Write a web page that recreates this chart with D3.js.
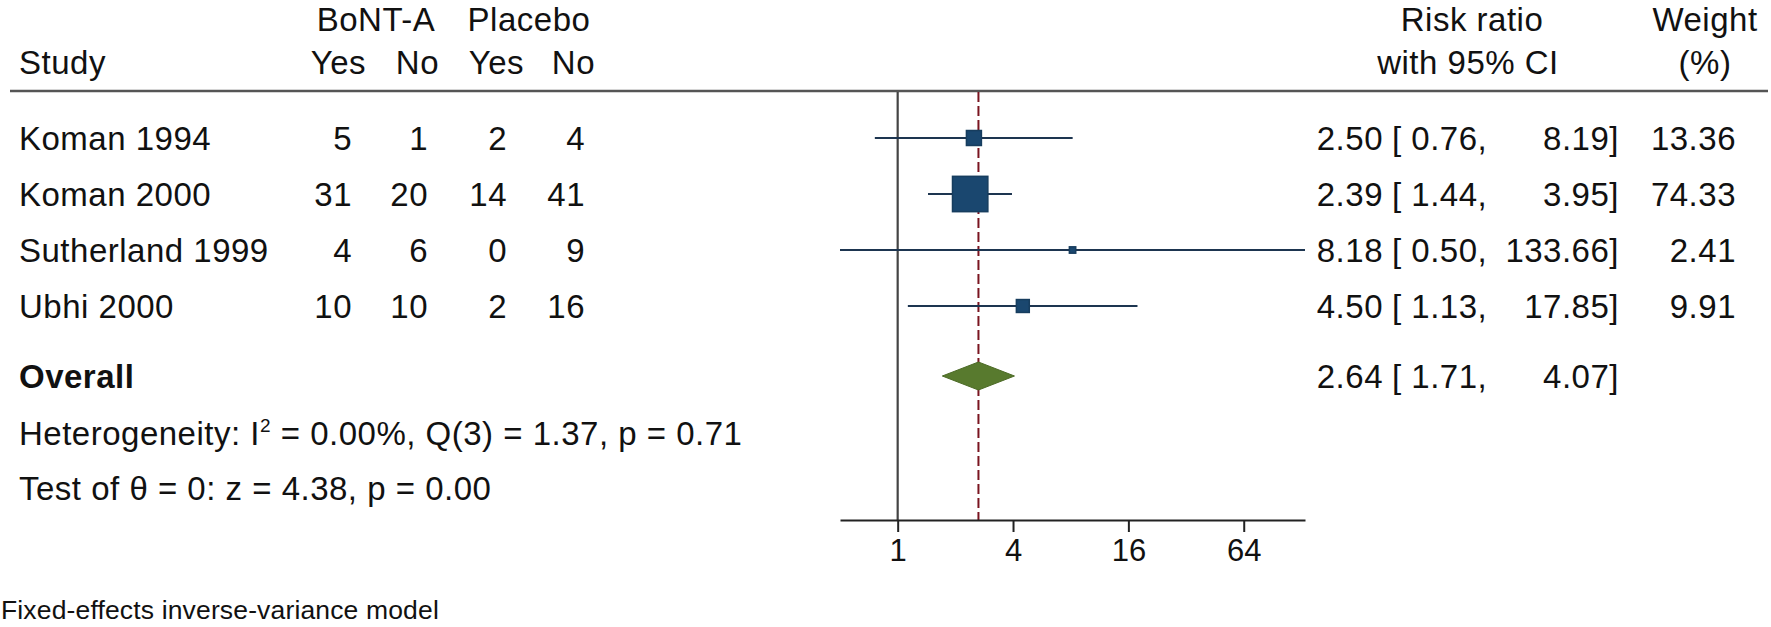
<!DOCTYPE html>
<html>

<head>
    <meta charset="utf-8" />
    <style>
        body {
            margin: 0;
            background-color: white;
        }
        text {
            font-family: "Liberation Sans", Arial, sans-serif;
            fill: #111;
        }
    </style>

    <script src="https://d3js.org/d3.v7.min.js"></script>
</head>

<body>
    <script>
        // data
        var studies = ["Koman 1994", "Koman 2000", "Sutherland 1999", "Ubhi 2000"];
        var bontYes = [5, 31, 4, 10],
            bontNo = [1, 20, 6, 10],
            placeboYes = [2, 14, 0, 2],
            placeboNo = [4, 41, 9, 16];
        var riskRatio = [2.50, 2.39, 8.18, 4.50],
            ciLow = [0.76, 1.44, 0.50, 1.13],
            ciHigh = [8.19, 3.95, 133.66, 17.85],
            weights = [13.36, 74.33, 2.41, 9.91];
        var overall = [2.64, 1.71, 4.07]; // estimate, low, high
        var xTicks = [1, 4, 16, 64];

        var width = 1771,
            height = 627;

        var fs = 33;

        var svg = d3.select("body").append("svg")
            .attr("width", width)
            .attr("height", height);

        var x = d3.scaleLog().base(2)
            .domain([d3.min(ciLow), d3.max(ciHigh)])
            .range([840, 1305]);

        // row centres, overall row after a small gap
        var rowY = d3.scaleLinear().domain([0, 1]).range([138, 194]);
        var overallRow = 4.25;

        var axisY = 520,
            topY = 91;

        // header
        svg.append("line")
            .attr("x1", 10).attr("x2", 1768)
            .attr("y1", topY).attr("y2", topY)
            .attr("stroke", "#555").attr("stroke-width", 2.5);

        function txt(s, xp, yp, anchor, size, weight) {
            return svg.append("text")
                .attr("x", xp).attr("y", yp)
                .attr("text-anchor", anchor || "start")
                .attr("font-size", size || fs)
                .attr("font-weight", weight || "normal")
                .attr("letter-spacing", (size && size < fs) ? 0.15 : 0.5)
                .text(s);
        }

        txt("BoNT-A", 376, 31, "middle");
        txt("Placebo", 529, 31, "middle");
        txt("Study", 19, 74);
        var colRight = [352, 428, 507, 585];
        var headRight = [366, 439, 524, 595];
        ["Yes", "No", "Yes", "No"].forEach(function (h, i) {
            txt(h, headRight[i], 74, "end");
        });
        txt("Risk ratio", 1472, 31, "middle");
        txt("with 95% CI", 1468, 74, "middle");
        txt("Weight", 1705, 31, "middle");
        txt("(%)", 1705, 74, "middle");

        // study rows
        var cols = [bontYes, bontNo, placeboYes, placeboNo];
        studies.forEach(function (s, i) {
            var by = rowY(i) + 12;
            txt(s, 19, by);
            cols.forEach(function (c, j) {
                txt(c[i], colRight[j], by, "end");
            });
            txt(riskRatio[i].toFixed(2), 1383, by, "end");
            txt("[ " + ciLow[i].toFixed(2) + ",", 1392, by);
            txt(ciHigh[i].toFixed(2) + "]", 1619, by, "end");
            txt(weights[i].toFixed(2), 1736, by, "end");
        });

        // overall row
        var oy = rowY(overallRow) + 12;
        txt("Overall", 19, oy, "start", fs, "bold");
        txt(overall[0].toFixed(2), 1383, oy, "end");
        txt("[ " + overall[1].toFixed(2) + ",", 1392, oy);
        txt(overall[2].toFixed(2) + "]", 1619, oy, "end");

        var het = txt("Heterogeneity: I", 19, 445);
        het.append("tspan").attr("dy", -13).attr("font-size", 19).text("2");
        het.append("tspan").attr("dy", 13).text(" = 0.00%, Q(3) = 1.37, p = 0.71");
        txt("Test of \u03b8 = 0: z = 4.38, p = 0.00", 19, 500);
        txt("Fixed-effects inverse-variance model", 1, 619, "start", 26.5);

        // null line
        svg.append("line")
            .attr("x1", x(1)).attr("x2", x(1))
            .attr("y1", topY + 1).attr("y2", axisY)
            .attr("stroke", "#444").attr("stroke-width", 2.2);

        // overall effect line
        svg.append("line")
            .attr("x1", x(overall[0])).attr("x2", x(overall[0]))
            .attr("y1", topY + 1).attr("y2", axisY)
            .attr("stroke", "#7a1420").attr("stroke-width", 2)
            .attr("stroke-dasharray", "10,4");

        // CIs
        svg.selectAll(".ci").data(studies).enter().append("line")
            .attr("class", "ci")
            .attr("x1", function (d, i) { return x(ciLow[i]); })
            .attr("x2", function (d, i) { return x(ciHigh[i]); })
            .attr("y1", function (d, i) { return rowY(i); })
            .attr("y2", function (d, i) { return rowY(i); })
            .attr("stroke", "#1d3550").attr("stroke-width", 2.2);

        // weight squares
        var side = function (w) { return 4.1 * Math.sqrt(w); };
        svg.selectAll(".box").data(studies).enter().append("rect")
            .attr("class", "box")
            .attr("x", function (d, i) { return x(riskRatio[i]) - side(weights[i]) / 2; })
            .attr("y", function (d, i) { return rowY(i) - side(weights[i]) / 2; })
            .attr("width", function (d, i) { return side(weights[i]); })
            .attr("height", function (d, i) { return side(weights[i]); })
            .attr("fill", "#1a476f")
            .attr("stroke", "#173d5e").attr("stroke-width", 1.5);

        // diamond
        var dc = rowY(overallRow), dh = 14;
        svg.append("path")
            .attr("d", "M" + x(overall[1]) + "," + dc +
                "L" + x(overall[0]) + "," + (dc - dh) +
                "L" + x(overall[2]) + "," + dc +
                "L" + x(overall[0]) + "," + (dc + dh) + "Z")
            .attr("fill", "#587a2e")
            .attr("stroke", "#4c6a26").attr("stroke-width", 1);

        // axis
        var axis = svg.append("g")
            .attr("transform", "translate(0," + axisY + ")")
            .call(d3.axisBottom(x).tickValues(xTicks).tickFormat(d3.format("d"))
                .tickSize(12).tickSizeOuter(0));
        axis.select(".domain").attr("stroke", "#222").attr("stroke-width", 2);
        axis.selectAll(".tick line").attr("stroke", "#222").attr("stroke-width", 2);
        axis.selectAll(".tick text")
            .attr("y", 41).attr("dy", 0)
            .attr("font-size", 31)
            .attr("font-family", "Liberation Sans, Arial, sans-serif")
            .attr("fill", "#111");
    </script>
</body>

</html>
